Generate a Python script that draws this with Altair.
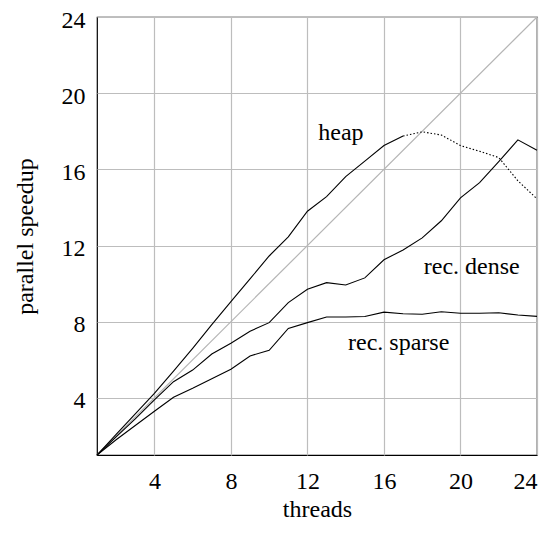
import altair as alt
import pandas as pd

threads = list(range(1, 25))
heap = [1, 2.08, 3.16, 4.24, 5.4, 6.6, 7.85, 9.05, 10.25, 11.45, 12.45, 13.8,
        14.57, 15.62, 16.43, 17.25, 17.75, 17.97, 17.8, 17.25, 16.95, 16.62, 15.4, 14.45]
rec_dense = [1, 1.95, 2.9, 3.9, 4.85, 5.46, 6.3, 6.87, 7.5, 7.95, 9.0, 9.7,
             10.05, 9.93, 10.3, 11.25, 11.77, 12.4, 13.3, 14.5, 15.3, 16.4, 17.55, 17.0]
rec_sparse = [1, 1.8, 2.55, 3.3, 4.03, 4.5, 5.0, 5.5, 6.2, 6.5, 7.65, 7.95,
              8.25, 8.25, 8.27, 8.5, 8.42, 8.39, 8.52, 8.44, 8.44, 8.47, 8.35, 8.28]
heap_solid_until = 17
ideal_threads = [1, 24]
ideal_speedup = [1, 24]
tick_values = [4, 8, 12, 16, 20, 24]

label_texts = ["heap", "rec. dense", "rec. sparse"]
label_threads = [13.75, 20.59, 16.77]
label_speedup = [17.54, 10.51, 6.51]

rows = []
for t, v in zip(threads, heap):
    if t <= heap_solid_until:
        rows.append({"threads": t, "speedup": v, "series": "heap", "style": "solid"})
    if t >= heap_solid_until:
        rows.append({"threads": t, "speedup": v, "series": "heap dotted", "style": "dotted"})
for t, v in zip(threads, rec_dense):
    rows.append({"threads": t, "speedup": v, "series": "rec. dense", "style": "solid"})
for t, v in zip(threads, rec_sparse):
    rows.append({"threads": t, "speedup": v, "series": "rec. sparse", "style": "solid"})
df = pd.DataFrame(rows)

ideal_df = pd.DataFrame({"threads": ideal_threads, "speedup": ideal_speedup})
labels_df = pd.DataFrame({"threads": label_threads, "speedup": label_speedup, "label": label_texts})

FONT = "Liberation Serif"

x_enc = alt.X("threads:Q",
              scale=alt.Scale(domain=[1, 24], nice=False, zero=False),
              axis=alt.Axis(values=tick_values, title="threads", labelPadding=14,
                            titlePadding=4))
y_enc = alt.Y("speedup:Q",
              scale=alt.Scale(domain=[1, 24], nice=False, zero=False),
              axis=alt.Axis(values=tick_values, title="parallel speedup", labelPadding=12,
                            labelOffset=3, titlePadding=24))

ideal = alt.Chart(ideal_df).mark_line(color="#b5b5b5", strokeWidth=1.2).encode(x=x_enc, y=y_enc)

solid = alt.Chart(df).transform_filter(alt.datum.style == "solid").mark_line(
    color="black", strokeWidth=1.1).encode(x=x_enc, y=y_enc, detail="series:N")

dotted = alt.Chart(df).transform_filter(alt.datum.style == "dotted").mark_line(
    color="black", strokeWidth=1.1, strokeDash=[1.5, 2]).encode(x=x_enc, y=y_enc, detail="series:N")

text = alt.Chart(labels_df).mark_text(
    font=FONT, fontSize=24, align="center", baseline="alphabetic", color="black"
).encode(x=x_enc, y=y_enc, text="label:N")

chart = alt.layer(ideal, solid, dotted, text).properties(
    width=440, height=438,
    autosize=alt.AutoSizeParams(type="none"),
    padding={"left": 89, "top": 9, "right": 12, "bottom": 78},
).configure_view(
    stroke="black", strokeWidth=1.2
).configure_axis(
    grid=True, gridColor="#bdbdbd", gridWidth=1.2, domain=False, ticks=False,
    labelFont=FONT, labelFontSize=24, labelColor="black",
    titleFont=FONT, titleFontSize=24, titleColor="black", titleFontWeight="normal",
)

chart.save("out.html", embed_options={"renderer": "svg", "actions": False})
